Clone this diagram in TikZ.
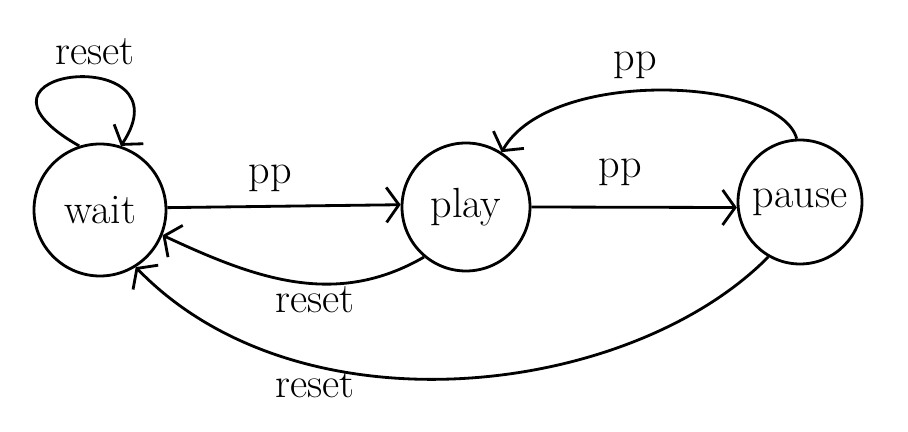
\documentclass[tikz,border=0pt]{standalone}
\usetikzlibrary{arrows.meta}

\begin{document}
\begin{tikzpicture}[
  state/.style={circle,draw,line width=1.6pt,inner sep=0pt,font=\fontsize{24}{28}\selectfont},
  trans/.style={line width=1.6pt,-{Straight Barb[length=2.5mm,width=7mm,line width=1.6pt]}},
  lbl/.style={font=\fontsize{24}{28}\selectfont}
]
\useasboundingbox (0,0) rectangle (18.16,8.64);

\node[state,minimum size=2.64cm] (wait) at (2.0,4.44) {wait};
\node[state,minimum size=2.56cm] (play) at (9.32,4.5) {play};
\node[state,minimum size=2.48cm] (pause) at (16.0,4.6) {pause};

\draw[trans] (wait.108) .. controls (-1.2,7.3) and (3.8,7.8) .. (wait.72);
\draw[trans] (wait.2) -- (play.178);
\draw[trans] (play.0) -- (pause.185);
\draw[trans] (pause.93) .. controls (15.6,7.1) and (11.0,7.3) .. (play.57);
\draw[trans] (play.230) to[out=210,in=-25] (wait.-22);
\draw[trans] (pause.240) .. controls (12.6,0.7) and (6,-0.1) .. (wait.-58);

\node[lbl] (l1) at (1.9,7.6) {reset};
\node[lbl] (l2) at (5.4,5.08) {pp};
\node[lbl] (l3) at (12.4,5.2) {pp};
\node[lbl] (l4) at (12.7,7.34) {pp};
\node[lbl] (l5) at (6.3,2.64) {reset};
\node[lbl] (l6) at (6.3,0.94) {reset};

\end{tikzpicture}
\end{document}
